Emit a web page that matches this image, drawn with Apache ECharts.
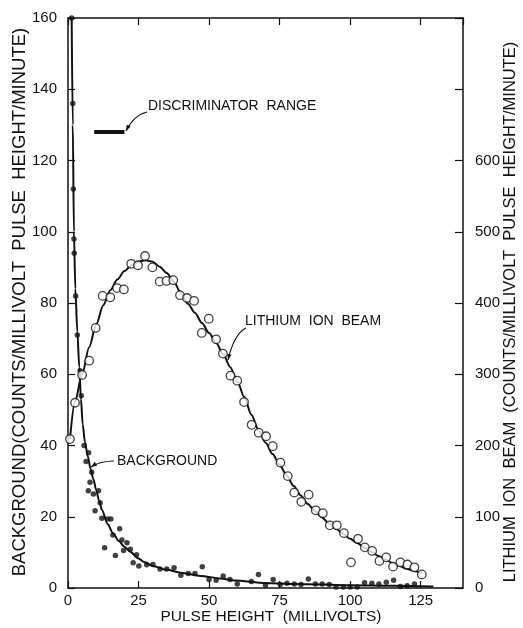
<!DOCTYPE html>
<html>
<head>
<meta charset="utf-8">
<script src="https://cdn.jsdelivr.net/npm/echarts@6/dist/echarts.min.js"></script>
<style>
  html, body { margin: 0; padding: 0; background: #fff; }
  #main { width: 523px; height: 628px; }
</style>
</head>
<body>
<div id="main"></div>
<script>
// pulse height (mV) and counts
// lithium ion beam, open circles (right scale)
var liX = [0.7, 2.5, 5, 7.5, 9.8, 12.3, 15, 17.4, 19.8, 22.4, 24.8, 27.3, 29.9, 32.5, 34.9, 37.3, 39.7, 42.2, 44.7, 47.4,
  49.9, 52.5, 54.9, 57.6, 60, 62.4, 65.1, 67.6, 70.2, 72.6, 75.3, 77.9, 80.2, 82.7, 85.3, 87.8, 90.3, 92.8, 95.3, 97.8,
  100.3, 102.8, 105.2, 107.8, 110.4, 112.8, 115.2, 117.8, 120.3, 122.8, 125.4];
var liY = [209, 260, 299, 319, 365, 410, 408, 421, 419, 455, 453, 466, 450, 430, 431, 432, 411, 407, 403, 358,
  378, 349, 329, 298, 291, 261, 229, 218, 213, 199, 176, 157, 134, 121, 131, 109, 105, 88, 88, 77,
  36, 69, 57, 52, 38, 43, 30, 36, 33, 29, 19];

// lithium fitted curve
var liFitX = [0.7, 2.5, 5, 7.5, 10, 12.5, 15, 17.5, 20, 22.5, 25, 27.5, 30, 32.5, 35, 37.5, 40, 42.5, 45, 47.5, 50,
  52.5, 55, 57.5, 60, 62.5, 65, 67.5, 70, 72.5, 75, 77.5, 80, 82.5, 85, 87.5, 90, 92.5, 95, 97.5, 100, 102.5, 105,
  107.5, 110, 112.5, 115, 117.5, 120, 122.5, 125.6];
var liFitY = [209, 262, 300, 338, 370, 397, 418, 433, 445, 453, 458, 460, 458, 451, 442, 430, 414, 399, 386, 372, 358,
  344, 328, 310, 290, 268, 243, 222, 204, 188, 173, 158, 143, 130, 118, 108, 99, 91, 83, 76, 69, 63, 57,
  51, 45, 40, 35, 31, 27, 24, 21];

// background, filled dots (left scale)
var bgX = [1.3, 1.7, 1.9, 2.1, 2.2, 2.7, 3.3, 4.3, 4.7, 5.7, 6.4, 7.3, 7.2, 7.8, 8.4, 9, 9.6, 10.8, 11.4, 12,
  13, 14.1, 15.2, 15.9, 16.8, 18.3, 19.1, 19.7, 20.9, 22.1, 23.1, 24.3, 25.1, 27.9, 30.1, 32.6, 35, 37.6, 40, 42.6,
  45, 47.6, 50, 52.5, 55, 57.4, 60, 65, 67.5, 70, 72.7, 75.2, 77.6, 80.2, 82.6, 85.2, 87.7, 90.1, 92.6, 95,
  97.6, 100, 102.5, 105.1, 107.7, 110.2, 112.8, 115.4, 117.8, 120.2, 122.8];
var bgY = [160, 136, 112, 98, 94, 82, 71, 61, 54, 40, 35.5, 38, 27.3, 29.7, 32.5, 26.4, 21.7, 27.3, 23.9, 19.6,
  11.3, 19.4, 19.4, 14.9, 9.1, 16.6, 13.5, 10.5, 12.7, 10.9, 7.1, 9.3, 6.2, 6.5, 6.6, 5.3, 5.3, 5.7, 3.6, 4.1,
  4.1, 6, 2.4, 2.2, 3.4, 2.4, 1.1, 1.8, 3.8, 0.8, 2.4, 1, 1.3, 1.1, 1, 2.5, 1.1, 1.1, 1, 0.3,
  0.3, 0.3, 0.3, 1.5, 1.3, 1.1, 1.6, 2.2, 0.4, 0.6, 1.1];

// background fitted curve
var bgFitX = [1.3, 1.7, 2.1, 2.6, 3.3, 4, 4.6, 5.2, 6, 7, 8, 9, 10, 11, 12, 14, 16, 18, 20, 22, 25, 27, 30, 35, 40,
  47, 54, 59, 70, 80, 90, 100, 115, 129.5];
var bgFitY = [160, 130, 100, 84, 72, 62, 53, 46, 41, 37, 33.5, 30.5, 27.5, 24.5, 22, 18, 15.3, 13.2, 11.6, 10.2, 8.3, 7.3, 6.2, 5.1, 4.3,
  3.4, 2.7, 2.1, 1.4, 1.1, 0.95, 0.8, 0.6, 0.4];

// discriminator range bar
var discX = [9.3, 20];
var discY = [128, 128];

function zip(a, b) {
  return a.map(function (v, i) { return [v, b[i]]; });
}

var chart = echarts.init(document.getElementById('main'), null, { renderer: 'canvas' });

var FONT = 'Liberation Sans';
var INK = '#111';

function arrow(x1, y1, cx, cy, x2, y2) {
  var ang = Math.atan2(y2 - cy, x2 - cx);
  var L = 6, W = 2.2;
  var bx = x2 - L * Math.cos(ang), by = y2 - L * Math.sin(ang);
  var px = -Math.sin(ang) * W, py = Math.cos(ang) * W;
  return [
    { type: 'bezierCurve', shape: { x1: x1, y1: y1, cpx1: cx, cpy1: cy, x2: x2, y2: y2 },
      style: { stroke: INK, lineWidth: 1.1, fill: null } },
    { type: 'polygon', shape: { points: [[x2, y2], [bx + px, by + py], [bx - px, by - py]] },
      style: { fill: INK } }
  ];
}

function label(txt, x, y) {
  return { type: 'text', left: x, top: y,
    style: { text: txt, font: '14px "' + FONT + '"', fill: INK } };
}

// axis titles, drawn as free text so they sit where the original has them
function title(txt, x, y, size, rot) {
  return { type: 'text', x: x, y: y, rotation: rot,
    style: { text: txt, font: size + 'px "' + FONT + '"', fill: INK, align: 'center', verticalAlign: 'middle' } };
}

var axisLineStyle = { color: INK, width: 1.5 };

var option = {
  backgroundColor: '#fff',
  animation: false,
  grid: { left: 68, right: 60, top: 18, bottom: 40, containLabel: false, outerBoundsMode: 'none' },
  xAxis: [
    {
      type: 'value', min: 0, max: 140, interval: 25, position: 'bottom',
      axisLine: { onZero: false, lineStyle: axisLineStyle },
      axisTick: { inside: true, length: 7, lineStyle: { color: INK, width: 1.2 } },
      axisLabel: { margin: 5, fontSize: 15, fontFamily: FONT, color: INK, showMaxLabel: false,
        formatter: function (v) { return v % 25 === 0 ? String(v) : ''; } },
      splitLine: { show: false }
    },
    {
      type: 'value', min: 0, max: 140, interval: 25, position: 'top',
      axisLine: { onZero: false, lineStyle: axisLineStyle },
      axisTick: { inside: true, length: 7, lineStyle: { color: INK, width: 1.2 } },
      axisLabel: { show: false },
      splitLine: { show: false }
    }
  ],
  yAxis: [
    {
      type: 'value', min: 0, max: 160, interval: 20, position: 'left',
      axisLine: { show: true, onZero: false, lineStyle: axisLineStyle },
      axisTick: { show: true, inside: true, length: 7, lineStyle: { color: INK, width: 1.2 } },
      axisLabel: { margin: 11, fontSize: 15, fontFamily: FONT, color: INK },
      splitLine: { show: false }
    },
    {
      type: 'value', min: 0, max: 800, interval: 100, position: 'right',
      axisLine: { show: true, onZero: false, lineStyle: axisLineStyle },
      axisTick: { show: true, inside: true, length: 8, lineStyle: { color: INK, width: 1.2 } },
      axisLabel: { margin: 12, fontSize: 15, fontFamily: FONT, color: INK,
        formatter: function (v) { return v <= 600 ? String(v) : ''; } },
      splitLine: { show: false }
    }
  ],
  series: [
    {
      name: 'background fit', type: 'line', data: zip(bgFitX, bgFitY), yAxisIndex: 0,
      showSymbol: false, smooth: 0.3, smoothMonotone: 'x',
      lineStyle: { color: INK, width: 2 }, z: 2, clip: true
    },
    {
      name: 'lithium fit', type: 'line', data: zip(liFitX, liFitY), yAxisIndex: 1,
      showSymbol: false, smooth: 0.3, smoothMonotone: 'x',
      lineStyle: { color: INK, width: 2 }, z: 2
    },
    {
      name: 'discriminator', type: 'line', data: zip(discX, discY), yAxisIndex: 0,
      showSymbol: false, lineStyle: { color: INK, width: 4 }, z: 2
    },
    {
      name: 'background', type: 'scatter', data: zip(bgX, bgY), yAxisIndex: 0,
      symbol: 'circle', symbolSize: 5.5, itemStyle: { color: INK }, z: 4
    },
    {
      name: 'lithium ion beam', type: 'scatter', data: zip(liX, liY), yAxisIndex: 1,
      symbol: 'circle', symbolSize: 8.5,
      itemStyle: { color: '#fff', borderColor: INK, borderWidth: 1.3 }, z: 5
    }
  ],
  graphic: [].concat(
    [title('BACKGROUND(COUNTS/MILLIVOLT  PULSE  HEIGHT/MINUTE)', 20, 302, 18.5, Math.PI / 2)],
    [title('LITHIUM  ION  BEAM  (COUNTS/MILLIVOLT  PULSE  HEIGHT/MINUTE)', 510, 312, 16.5, Math.PI / 2)],
    [title('PULSE HEIGHT  (MILLIVOLTS)', 271, 617, 15.5, 0)],
    [label('DISCRIMINATOR  RANGE', 148, 99)],
    arrow(147, 112, 134, 115, 126, 131),
    [label('LITHIUM  ION  BEAM', 245, 314)],
    arrow(246, 328, 234, 334, 228, 360),
    [label('BACKGROUND', 117, 454)],
    arrow(114, 461, 100, 461, 91, 467)
  )
};

chart.setOption(option);
</script>
</body>
</html>
